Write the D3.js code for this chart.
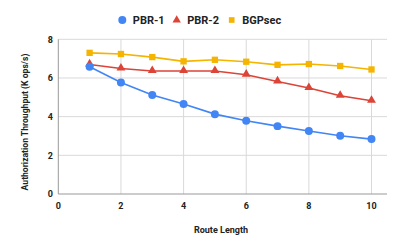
<!DOCTYPE html>
<html><head><meta charset="utf-8">
<script src="https://cdn.jsdelivr.net/npm/d3@7"></script>
<style>body{margin:0;background:#fff;}svg{display:block;font-family:Roboto,Arial,sans-serif;}</style>
</head><body>
<svg id="c" width="399" height="247"></svg>
<script>
const routeLength = [1,2,3,4,5,6,7,8,9,10];
const pbr1 = [6.58,5.77,5.12,4.65,4.13,3.79,3.51,3.26,3.01,2.84];
const pbr2 = [6.70,6.49,6.36,6.36,6.36,6.17,5.82,5.48,5.08,4.82];
const bgpsec = [7.30,7.24,7.08,6.86,6.94,6.84,6.68,6.72,6.62,6.44];
const seriesNames = ["PBR-1","PBR-2","BGPsec"];
const xTicks = [0,2,4,6,8,10];
const yTicks = [0,2,4,6,8];

const colors = ["#4285F4","#DB4437","#F4B400"];
const shapes = [d3.symbolCircle, d3.symbolTriangle, d3.symbolSquare];
const sizes = [50, 34, 40];
const svg = d3.select("#c");
const x = d3.scaleLinear().domain([0,10]).range([58.3,371.5]);
const y = d3.scaleLinear().domain([0,8]).range([194,39.3]);
const right = 387;

// grid
svg.append("g").selectAll("line").data(xTicks.filter(d=>d>0)).join("line")
  .attr("x1",d=>x(d)).attr("x2",d=>x(d)).attr("y1",y(8)).attr("y2",y(0))
  .attr("stroke","#d9d9d9").attr("stroke-width",1);
svg.append("g").selectAll("line").data(yTicks.filter(d=>d>0)).join("line")
  .attr("x1",x(0)).attr("x2",right).attr("y1",d=>y(d)).attr("y2",d=>y(d))
  .attr("stroke","#d9d9d9").attr("stroke-width",1);
// axes lines
svg.append("line").attr("x1",x(0)).attr("x2",x(0)).attr("y1",y(8)).attr("y2",y(0)).attr("stroke","#999").attr("stroke-width",1);
svg.append("line").attr("x1",x(0)).attr("x2",right).attr("y1",y(0)).attr("y2",y(0)).attr("stroke","#999").attr("stroke-width",1);

// tick labels
svg.append("g").selectAll("text").data(xTicks).join("text")
  .attr("x",d=>x(d)).attr("y",208.5).attr("text-anchor","middle")
  .attr("font-size",9).attr("font-weight","bold").attr("fill","#222").text(d=>d);
svg.append("g").selectAll("text").data(yTicks).join("text")
  .attr("x",53).attr("y",d=>y(d)+3.2).attr("text-anchor","end")
  .attr("font-size",9).attr("font-weight","bold").attr("fill","#222").text(d=>d);

// titles
svg.append("text").attr("x",221).attr("y",233).attr("text-anchor","middle")
  .attr("font-size",9).attr("font-weight","bold").attr("fill","#222").text("Route Length");
svg.append("text").attr("transform","translate(27.5,122) rotate(-90)").attr("text-anchor","middle")
  .attr("font-size",8.6).attr("font-weight","bold").attr("fill","#222").text("Authorization Throughput (K ops/s)");

const data = [pbr1,pbr2,bgpsec];
const line = d3.line().x((d,i)=>x(routeLength[i])).y(d=>y(d));
[2,1,0].forEach(k=>{
  const g = svg.append("g");
  g.append("path").datum(data[k]).attr("d",line).attr("fill","none")
    .attr("stroke",colors[k]).attr("stroke-width",1.6);
  g.selectAll("path.m").data(data[k]).join("path").attr("class","m")
    .attr("transform",(d,i)=>`translate(${x(routeLength[i])},${y(d) + (k===1?-0.5:0)})`)
    .attr("d",d3.symbol().type(shapes[k]).size(sizes[k])).attr("fill",colors[k]);
});

// legend
const legX = [122.3,176.7,231.7];
const lg = svg.append("g");
seriesNames.forEach((n,k)=>{
  lg.append("path").attr("transform",`translate(${legX[k]},20)`)
    .attr("d",d3.symbol().type(shapes[k]).size(k===0?50:(k===1?30:32))).attr("fill",colors[k]);
  lg.append("text").attr("x",legX[k]+10.5).attr("y",24).attr("font-size",11)
    .attr("font-weight","bold").attr("fill","#222").text(n);
});
</script>
</body></html>
